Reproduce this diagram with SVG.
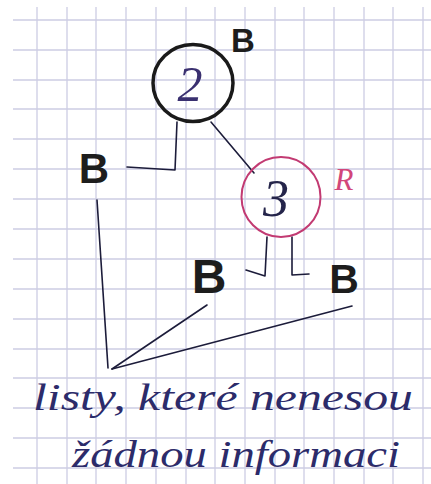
<svg xmlns="http://www.w3.org/2000/svg" width="431" height="484" viewBox="0 0 431 484">
<style>
.g{stroke:#cdcde3;stroke-width:1.3}
.ink{fill:none;stroke:#1c1c3a;stroke-width:1.6;stroke-linecap:round;stroke-linejoin:round}
.b{font-family:"Liberation Sans",Arial,sans-serif;font-weight:bold;fill:#1d1d1d}
.hand{font-family:"Liberation Serif","Times New Roman",serif;font-style:italic;fill:#2c2b6a}
.red{fill:#d2467a}
.digit2{fill:#3a3070}
.digit3{fill:#24244a}
</style>
<rect width="431" height="484" fill="#ffffff"/>
<g id="grid">
<g class="g">
<line x1="37" y1="7" x2="37" y2="484"/><line x1="67" y1="7" x2="67" y2="484"/><line x1="96" y1="7" x2="96" y2="484"/><line x1="126" y1="7" x2="126" y2="484"/><line x1="156" y1="7" x2="156" y2="484"/><line x1="186" y1="7" x2="186" y2="484"/><line x1="215" y1="7" x2="215" y2="484"/><line x1="245" y1="7" x2="245" y2="484"/><line x1="275" y1="7" x2="275" y2="484"/><line x1="304" y1="7" x2="304" y2="484"/><line x1="334" y1="7" x2="334" y2="484"/><line x1="364" y1="7" x2="364" y2="484"/><line x1="393" y1="7" x2="393" y2="484"/><line x1="423" y1="7" x2="423" y2="484"/>
<line x1="13" y1="20" x2="431" y2="20"/><line x1="13" y1="50" x2="431" y2="50"/><line x1="13" y1="80" x2="431" y2="80"/><line x1="13" y1="109" x2="431" y2="109"/><line x1="13" y1="139" x2="431" y2="139"/><line x1="13" y1="169" x2="431" y2="169"/><line x1="13" y1="199" x2="431" y2="199"/><line x1="13" y1="229" x2="431" y2="229"/><line x1="13" y1="259" x2="431" y2="259"/><line x1="13" y1="289" x2="431" y2="289"/><line x1="13" y1="319" x2="431" y2="319"/><line x1="13" y1="349" x2="431" y2="349"/><line x1="13" y1="378" x2="431" y2="378"/><line x1="13" y1="408" x2="431" y2="408"/><line x1="13" y1="438" x2="431" y2="438"/><line x1="13" y1="468" x2="431" y2="468"/>
</g>
</g>
<g id="connectors" class="ink">
<path d="M177 122 L175 170 L127 167"/>
<path d="M211 122 L254 173"/>
<path d="M267 237 L265 276 L246 270"/>
<path d="M292 237 L292 275 L309 274"/>
<path d="M97 200 L108 368"/>
<path d="M112 369 L207 305"/>
<path d="M112 369 L352 306"/>
</g>
<g id="node-2">
<ellipse cx="193" cy="83" rx="40" ry="38.5" fill="none" stroke="#1a1a1a" stroke-width="3.5"/>
<text x="190" y="101" class="hand digit2" font-size="50" text-anchor="middle">2</text>
<text x="243" y="52" class="b" font-size="33" text-anchor="middle">B</text>
</g>
<g id="node-3">
<ellipse cx="281" cy="197" rx="39.5" ry="40" fill="none" stroke="#c23a72" stroke-width="2"/>
<text x="276" y="216" class="hand digit3" font-size="52" text-anchor="middle">3</text>
<text x="344" y="190" class="hand red" font-size="31" text-anchor="middle">R</text>
</g>
<g id="leaf-left">
<text x="94" y="183" class="b" font-size="42" text-anchor="middle">B</text>
</g>
<g id="leaf-3-left">
<text x="209" y="293" class="b" font-size="48" text-anchor="middle">B</text>
</g>
<g id="leaf-3-right">
<text x="344" y="293" class="b" font-size="41" text-anchor="middle">B</text>
</g>
<g id="annotation">
<text x="33" y="410" class="hand" font-size="38" textLength="380" lengthAdjust="spacingAndGlyphs">listy, které nenesou</text>
<text x="72" y="467" class="hand" font-size="38" textLength="328" lengthAdjust="spacingAndGlyphs">žádnou informaci</text>
</g>
</svg>
